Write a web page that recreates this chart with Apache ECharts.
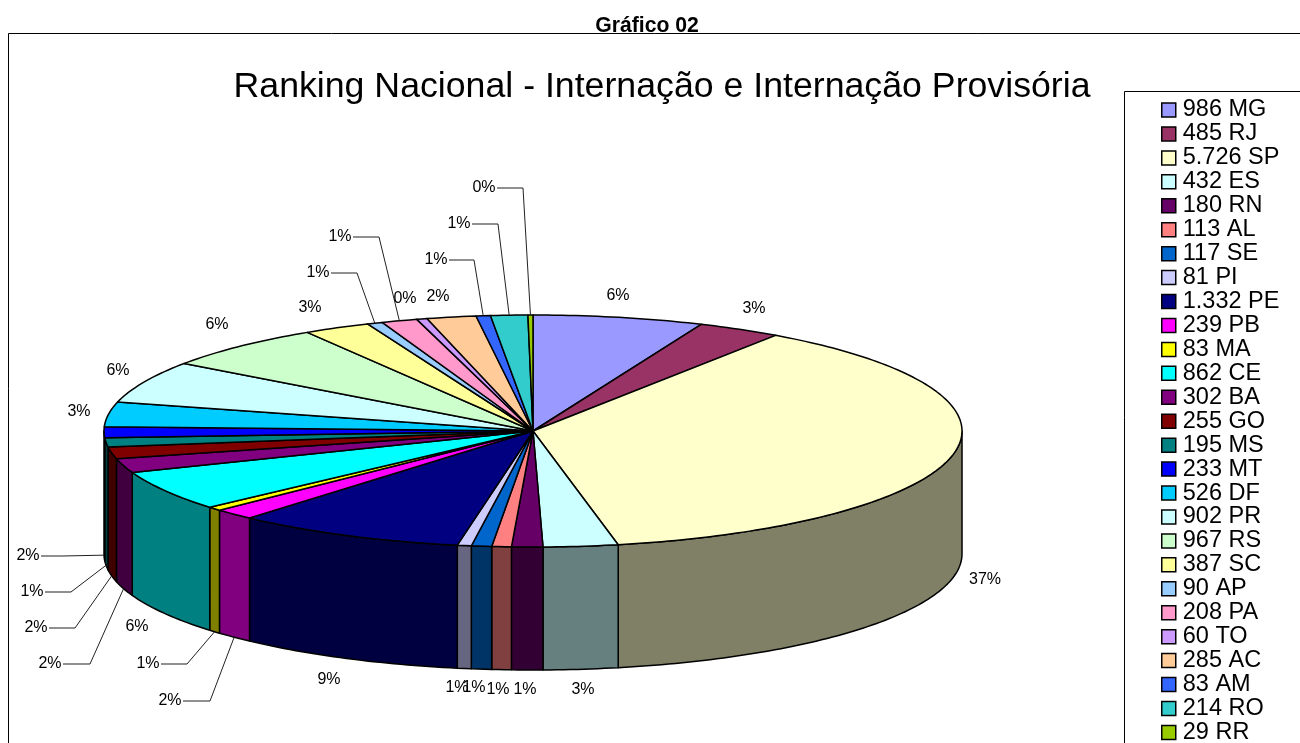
<!DOCTYPE html>
<html>
<head>
<meta charset="utf-8">
<title>Gráfico 02</title>
<script src="https://cdn.jsdelivr.net/npm/echarts@6/dist/echarts.min.js"></script>
<style>
  html, body { margin: 0; padding: 0; background: #fff; overflow: hidden; }
  #chart { width: 1300px; height: 743px; }
</style>
</head>
<body>
<div id="chart"></div>
<script>
const states = ["MG", "RJ", "SP", "ES", "RN", "AL", "SE", "PI", "PE", "PB", "MA", "CE", "BA", "GO", "MS", "MT", "DF", "PR", "RS", "SC", "AP", "PA", "TO", "AC", "AM", "RO", "RR"];
const values = [986, 485, 5726, 432, 180, 113, 117, 81, 1332, 239, 83, 862, 302, 255, 195, 233, 526, 902, 967, 387, 90, 208, 60, 285, 83, 214, 29];
const colors = ["#9999ff", "#993366", "#ffffcc", "#ccffff", "#660066", "#ff8080", "#0066cc", "#ccccff", "#000080", "#ff00ff", "#ffff00", "#00ffff", "#800080", "#800000", "#008080", "#0000ff", "#00ccff", "#ccffff", "#ccffcc", "#ffff99", "#99ccff", "#ff99cc", "#cc99ff", "#ffcc99", "#3366ff", "#33cccc", "#99cc00"];

// where Excel left each percent label: text centre x, y, elbow x of the leader (if any)
const labelSpots = [
  [618, 296], [754, 309], [985, 580], [583, 690], [525, 690], [498, 690], [474, 688], [457, 688],
  [329, 680], [170, 701, 210], [148, 664, 187], [137, 627], [50, 664, 90], [36, 628, 75],
  [32, 592, 71], [28, 556, 62], [79, 412], [118, 371], [217, 325], [310, 308],
  [318, 273, 357], [340, 237, 379], [405, 299], [438, 297], [436, 260, 474], [459, 224, 498], [484, 188, 523],
];

const pie = { cx: 533, cy: 431, rx: 429, ry: 116, depth: 123 };
const total = values.reduce((sum, v) => sum + v, 0);
const cumulative = values.map((_, i) => values.slice(0, i).reduce((sum, v) => sum + v, 0));

function toAngle(amount) {
  return echarts.number.linearMap(amount, [0, total], [0, 360]);
}

function edgePoint(deg, drop = 0) {
  const rad = (deg * Math.PI) / 180;
  return [pie.cx + pie.rx * Math.sin(rad), pie.cy - pie.ry * Math.cos(rad) + drop];
}

function arcPoints(from, to, drop = 0) {
  const steps = Math.max(2, Math.ceil(to - from));
  const points = [];
  for (let i = 0; i <= steps; i++) {
    points.push(edgePoint(from + ((to - from) * i) / steps, drop));
  }
  return points;
}

function legendName(i) {
  // thousands separated with a dot, as in the original
  return `${String(values[i]).replace(/\B(?=(\d{3})+$)/g, ".")} ${states[i]}`;
}

function wallColor(color) {
  const [r, g, b] = echarts.color.parse(color);
  return `rgb(${Math.round(r / 2)},${Math.round(g / 2)},${Math.round(b / 2)})`;
}

function renderSlice(index) {
  const start = toAngle(cumulative[index]);
  const end = toAngle(cumulative[index] + values[index]);
  const mid = (start + end) / 2;
  const color = colors[index];
  const edgeStyle = { stroke: "#000", lineWidth: 1.5, lineJoin: "round" };
  const children = [];

  // only the front half of the rim shows a wall
  const wallFrom = Math.max(start, 90);
  const wallTo = Math.min(end, 270);
  if (wallTo > wallFrom) {
    const top = arcPoints(wallFrom, wallTo);
    const bottom = arcPoints(wallFrom, wallTo, pie.depth).reverse();
    children.push({
      type: "polygon",
      shape: { points: top.concat(bottom) },
      style: { fill: wallColor(color), ...edgeStyle },
    });
  }

  children.push({
    type: "polygon",
    shape: { points: [[pie.cx, pie.cy]].concat(arcPoints(start, end)) },
    style: { fill: color, ...edgeStyle },
  });

  const [textX, textY, elbowX] = labelSpots[index];
  if (elbowX !== undefined) {
    const front = mid > 90 && mid < 270;
    children.push({
      type: "polyline",
      shape: { points: [[textX + 13, textY], [elbowX, textY], edgePoint(mid, front ? pie.depth : 0)] },
      style: { stroke: "#222", lineWidth: 1, fill: null },
    });
  }
  children.push({
    type: "text",
    style: {
      x: textX,
      y: textY,
      text: `${Math.round((values[index] / total) * 100)}%`,
      align: "center",
      verticalAlign: "middle",
      fill: "#000",
      font: '16px "Liberation Sans", Arial, sans-serif',
    },
  });

  return { type: "group", children };
}

const chart = echarts.init(document.getElementById("chart"));

chart.setOption({
  animation: false,
  backgroundColor: "#fff",
  textStyle: { fontFamily: '"Liberation Sans", Arial, sans-serif' },
  title: [
    {
      text: "Gráfico 02",
      left: 642,
      top: 11,
      textAlign: "center",
      textStyle: { fontSize: 21.2, fontWeight: "bold", color: "#000", fontFamily: '"Liberation Sans", Arial, sans-serif' },
    },
    {
      text: "Ranking Nacional - Internação e Internação Provisória",
      left: 657,
      top: 64,
      textAlign: "center",
      textStyle: { fontSize: 35.7, fontWeight: "normal", color: "#000", fontFamily: '"Liberation Sans", Arial, sans-serif' },
    },
  ],
  graphic: [
    { type: "rect", z: -2, shape: { x: 8.5, y: 33.5, width: 1400, height: 800 }, style: { fill: "#fff", stroke: "#000", lineWidth: 1 } },
    { type: "rect", z: -1, shape: { x: 1124.5, y: 91.5, width: 300, height: 800 }, style: { fill: "#fff", stroke: "#000", lineWidth: 1 } },
  ],
  legend: {
    orient: "vertical",
    left: 1161,
    top: 98,
    padding: 0,
    height: 720,
    itemWidth: 14,
    itemHeight: 14,
    itemGap: -0.06,
    selectedMode: false,
    icon: "rect",
    itemStyle: { borderColor: "#000", borderWidth: 1.5 },
    textStyle: { fontSize: 23.5, color: "#000", padding: [0, 0, 0, 2], fontFamily: '"Liberation Sans", Arial, sans-serif' },
    data: values.map((v, i) => legendName(i)),
  },
  series: values.map((v, i) => ({
    type: "custom",
    name: legendName(i),
    coordinateSystem: "none",
    silent: true,
    itemStyle: { color: colors[i] },
    data: [[v]],
    renderItem: () => renderSlice(i),
  })),
});
</script>
</body>
</html>
